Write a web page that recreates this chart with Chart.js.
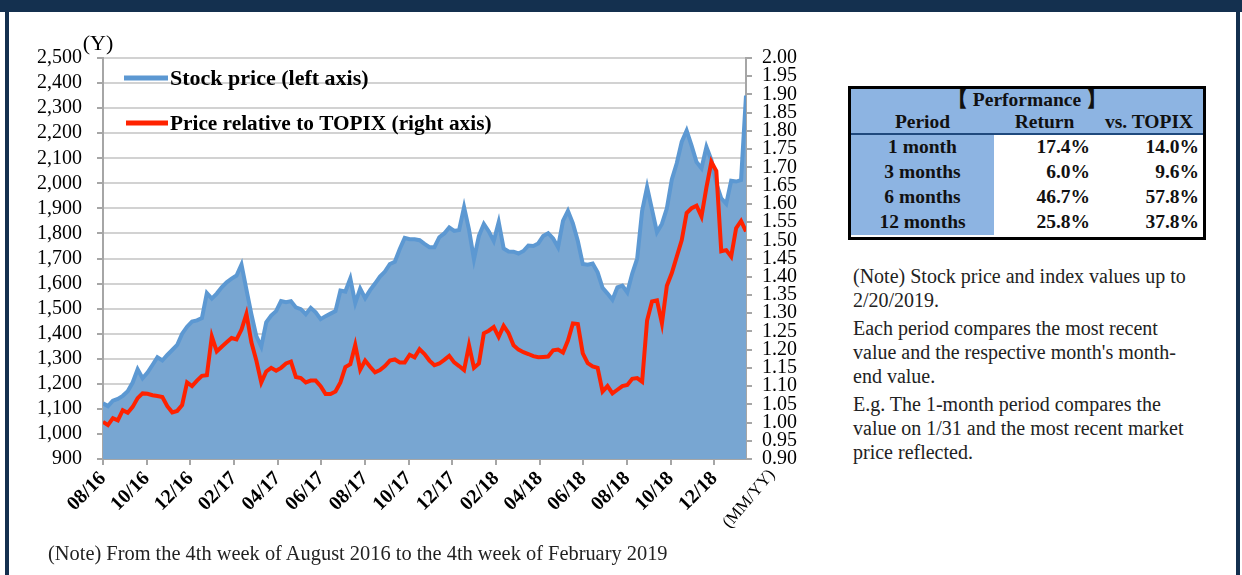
<!DOCTYPE html>
<html><head><meta charset="utf-8">
<script src="https://cdn.jsdelivr.net/npm/chart.js@4.4.1/dist/chart.umd.min.js"></script>
<style>
html,body{margin:0;padding:0;background:#fff;}
body{width:1242px;height:575px;position:relative;overflow:hidden;font-family:"Liberation Serif","Times New Roman",serif;color:#111;}
#bar{position:absolute;left:0;top:0;width:1242px;height:12px;background:#14304f;}
#lb{position:absolute;left:5px;top:0;width:4px;height:575px;background:#14304f;}
#rb{position:absolute;left:1236px;top:0;width:4px;height:575px;background:#14304f;}
#wrap{position:absolute;left:0;top:0;width:840px;height:575px;}
#perf{position:absolute;left:848px;top:86px;width:358px;height:154px;border:3px solid #000;box-sizing:border-box;background:#fff;}
#perf table{border-collapse:collapse;width:352px;font-weight:bold;font-size:19.5px;color:#111;}
#perf td{padding:0;line-height:1;}
.blue{background:#8db4e2;}
.c{text-align:center;}
.r{text-align:right;}
#notes{position:absolute;left:853px;top:264px;font-size:20px;color:#222;line-height:24px;}
#notes p{margin:0 0 4px 0;white-space:nowrap;}
#bnote{position:absolute;left:48px;top:541px;font-size:20.4px;color:#222;white-space:nowrap;line-height:24px;}
</style></head>
<body>
<div id="bar"></div><div id="lb"></div><div id="rb"></div>
<div id="wrap"><canvas id="c" width="840" height="575"></canvas></div>
<div id="perf"><table>
<tr class="blue" style="height:21px"><td colspan="3" class="c">【 Performance 】</td></tr>
<tr class="blue" style="height:24px;border-bottom:2px solid #1f497d"><td class="c" style="width:143px">Period</td><td class="c" style="width:101px">Return</td><td class="c">vs. TOPIX</td></tr>
<tr style="height:25px"><td class="c blue">1 month</td><td class="r" style="padding-right:5px">17.4%</td><td class="r" style="padding-right:4px">14.0%</td></tr>
<tr style="height:25px"><td class="c blue">3 months</td><td class="r" style="padding-right:5px">6.0%</td><td class="r" style="padding-right:4px">9.6%</td></tr>
<tr style="height:25px"><td class="c blue">6 months</td><td class="r" style="padding-right:5px">46.7%</td><td class="r" style="padding-right:4px">57.8%</td></tr>
<tr style="height:26px"><td class="c blue">12 months</td><td class="r" style="padding-right:5px">25.8%</td><td class="r" style="padding-right:4px">37.8%</td></tr>
</table></div>
<div id="notes">
<p>(Note) Stock price and index values up to<br>2/20/2019.</p>
<p>Each period compares the most recent<br>value and the respective month's month-<br>end value.</p>
<p>E.g. The 1-month period compares the<br>value on 1/31 and the most recent market<br>price reflected.</p>
</div>
<div id="bnote">(Note) From the 4th week of August 2016 to the 4th week of February 2019</div>
<script>
// Tick labels on the x axis (every two months)
const tickLabels = ['08/16','10/16','12/16','02/17','04/17','06/17','08/17','10/17','12/17','02/18','04/18','06/18','08/18','10/18','12/18'];
// Weekly stock price (yen), 4th week Aug 2016 - 4th week Feb 2019
const stockPrice = [
1122,1111,1133,1140,1152,1170,1205,1258,1222,1245,
1275,1306,1293,1315,1335,1355,1400,1428,1448,1453,
1462,1562,1540,1560,1585,1605,1620,1632,1676,1576,
1478,1390,1348,1445,1472,1490,1530,1526,1530,1505,
1498,1478,1503,1485,1458,1470,1480,1490,1572,1568,
1620,1522,1580,1542,1574,1600,1628,1648,1678,1687,
1738,1782,1777,1777,1773,1758,1745,1745,1785,1800,
1824,1810,1814,1905,1815,1697,1790,1838,1808,1770,
1845,1740,1728,1727,1720,1730,1752,1750,1760,1790,
1801,1780,1745,1850,1890,1840,1770,1678,1675,1680,
1645,1583,1560,1535,1585,1592,1565,1640,1700,1890,
1985,1895,1805,1838,1900,2015,2080,2165,2210,2150,
2085,2060,2145,2093,2000,1940,1918,2010,2007,2013,
2350];
// Weekly price relative to TOPIX (right axis)
const relTopix = [
1.002,0.993,1.012,1.006,1.034,1.027,1.043,1.067,1.080,1.079,
1.075,1.073,1.070,1.045,1.028,1.032,1.048,1.110,1.100,1.115,
1.128,1.130,1.236,1.195,1.208,1.220,1.232,1.228,1.255,1.298,
1.220,1.170,1.110,1.140,1.150,1.142,1.150,1.162,1.167,1.125,
1.122,1.110,1.115,1.115,1.100,1.078,1.078,1.085,1.110,1.152,
1.160,1.213,1.145,1.170,1.153,1.138,1.144,1.155,1.170,1.173,
1.165,1.165,1.186,1.179,1.201,1.188,1.170,1.157,1.162,1.172,
1.183,1.165,1.155,1.144,1.212,1.150,1.162,1.245,1.252,1.262,
1.235,1.265,1.245,1.212,1.200,1.193,1.188,1.182,1.179,1.180,
1.181,1.198,1.200,1.192,1.225,1.272,1.270,1.190,1.163,1.154,
1.150,1.085,1.100,1.080,1.090,1.100,1.103,1.120,1.122,1.112,
1.280,1.332,1.335,1.272,1.375,1.410,1.455,1.500,1.575,1.588,
1.595,1.565,1.645,1.715,1.690,1.470,1.473,1.455,1.533,1.553,
1.524];
const leftTicks = [900,1000,1100,1200,1300,1400,1500,1600,1700,1800,1900,2000,2100,2200,2300,2400,2500];
const rightTicks = [0.90,0.95,1.00,1.05,1.10,1.15,1.20,1.25,1.30,1.35,1.40,1.45,1.50,1.55,1.60,1.65,1.70,1.75,1.80,1.85,1.90,1.95,2.00];

const TICK_STEP = 8.83; // weeks between labelled ticks
const SERIF = '"Liberation Serif","Times New Roman",serif';
const AXIS = '#a6a6a6';

const overlay = {
  id:'overlay',
  afterDraw(chart){
    const c = chart.ctx; c.save();
    const ds = chart.data.datasets;
    const items = [{d:ds[1], y:78, x0:124, fs:22},{d:ds[0], y:123, x0:126, fs:21.3}];
    c.textBaseline='middle'; c.textAlign='left';
    for (const it of items){
      c.strokeStyle = it.d.borderColor; c.lineWidth = 5;
      c.beginPath(); c.moveTo(it.x0,it.y); c.lineTo(168,it.y); c.stroke();
      c.font = 'bold '+it.fs+'px '+SERIF;
      c.fillStyle = '#000'; c.fillText(it.d.label, 170, it.y+1);
    }
    c.font = '22px '+SERIF; c.textAlign='center'; c.fillStyle='#000';
    c.fillText('(Y)', 98, 44);
    c.translate(772, 472); c.rotate(-Math.PI/4 - 0.08);
    c.font = '17px '+SERIF; c.textAlign='right';
    c.fillText('(MM/YY)', 0, 0);
    c.restore();
  }
};

new Chart(document.getElementById('c'), {
  type:'line',
  data:{datasets:[
    {label:'Price relative to TOPIX (right axis)', data: relTopix.map((v,i)=>({x:i,y:v})), yAxisID:'y1',
     borderColor:'#ff2200', borderWidth:4, pointRadius:0, fill:false, tension:0, order:0},
    {label:'Stock price (left axis)', data: stockPrice.map((v,i)=>({x:i,y:v})), yAxisID:'y',
     borderColor:'#5c98d2', backgroundColor:'#78a6d2', borderWidth:4, pointRadius:0, fill:'start', tension:0, order:1}
  ]},
  options:{
    responsive:false, animation:false, devicePixelRatio:1,
    layout:{padding:{top:58,left:0,right:0,bottom:0}},
    plugins:{legend:{display:false}, tooltip:{enabled:false}},
    scales:{
      x:{type:'linear', min:0, max:stockPrice.length-1,
        afterBuildTicks: s => { s.ticks = tickLabels.map((_,k)=>({value:k*TICK_STEP})); },
        afterFit: s => { s.height = 116; },
        ticks:{autoSkip:false, maxRotation:45, minRotation:45, padding:2, color:'#000',
          callback:(v,i)=>tickLabels[i], font:{family:SERIF, size:20, weight:'bold'}},
        grid:{drawOnChartArea:false, drawTicks:true, tickLength:6, tickColor:AXIS, lineWidth:2},
        border:{display:true, color:AXIS, width:2}
      },
      y:{type:'linear', position:'left', min:900, max:2500, z:1,
        afterBuildTicks: s => { s.ticks = leftTicks.map(v=>({value:v})); },
        afterFit: s => { s.width = 103; },
        ticks:{autoSkip:false, padding:15, color:'#000', font:{family:SERIF, size:20},
          callback: v => v.toLocaleString('en-US')},
        grid:{color:'rgba(90,90,90,0.27)', lineWidth:2, tickColor:AXIS, tickLength:6},
        border:{display:true, color:AXIS, width:2}
      },
      y1:{type:'linear', position:'right', min:0.9, max:2.0,
        afterBuildTicks: s => { s.ticks = rightTicks.map(v=>({value:v})); },
        afterFit: s => { s.width = 94; },
        ticks:{autoSkip:false, padding:10, color:'#000', font:{family:SERIF, size:20},
          callback: v => v.toFixed(2)},
        grid:{drawOnChartArea:false, tickColor:AXIS, tickLength:6, lineWidth:2},
        border:{display:true, color:AXIS, width:2}
      }
    }
  },
  plugins:[overlay]
});
</script>
</body></html>
